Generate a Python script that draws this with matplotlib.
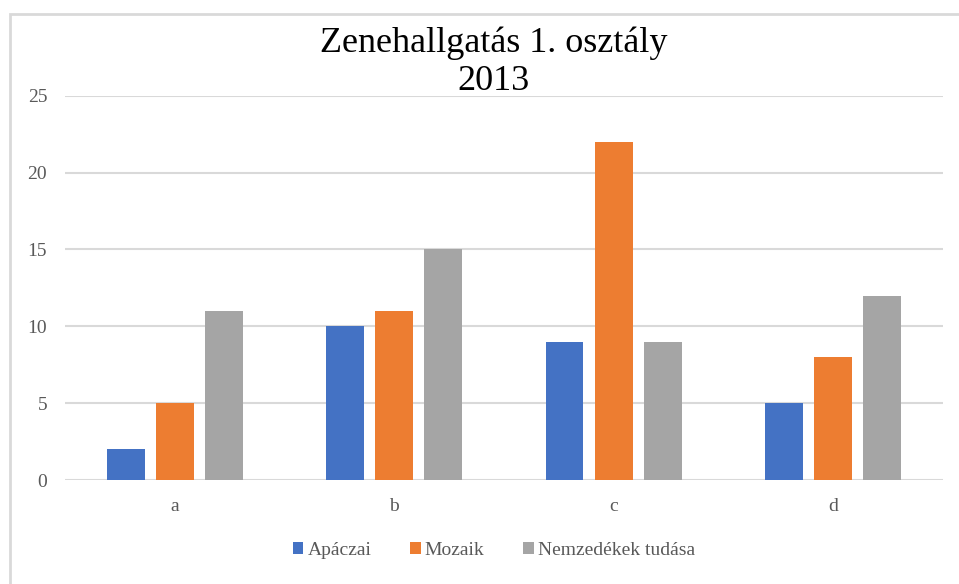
import numpy as np
import matplotlib
matplotlib.use("Agg")
import matplotlib.pyplot as plt
from matplotlib.patches import Rectangle

# Data
categories = ["a", "b", "c", "d"]
apaczai = [2, 10, 9, 5]
mozaik = [5, 11, 22, 8]
nemzedekek = [11, 15, 9, 12]
series_names = ["Apáczai", "Mozaik", "Nemzedékek tudása"]
colors = ["#4472C4", "#ED7D31", "#A5A5A5"]

plt.rcParams['font.family'] = ['Liberation Serif', 'DejaVu Serif']

fig = plt.figure(figsize=(9.59, 5.84), dpi=100)
ax = fig.add_axes([0.068, 0.178, 0.915, 0.658])

# Chart frame
fig.patches.append(Rectangle((10 / 959, -0.05), 1.0, 1 - 14 / 584 + 0.05,
                             transform=fig.transFigure, fill=False,
                             edgecolor="#D9D9D9", linewidth=2))

x = np.arange(len(categories))
width = 0.173
offset = 0.224
for i, (vals, name) in enumerate(zip([apaczai, mozaik, nemzedekek], series_names)):
    ax.bar(x + (i - 1) * offset, vals, width, color=colors[i], label=name, zorder=3)

ax.set_xlim(-0.5, 3.5)
ax.set_ylim(0, 25)
ax.set_yticks(range(0, 26, 5))
ax.set_xticks(x)
ax.set_xticklabels(categories)
ax.grid(axis="y", color="#D9D9D9", linewidth=1.5, zorder=0)
for s in ax.spines.values():
    s.set_visible(False)
ax.tick_params(length=0, labelsize=14, colors="#595959", pad=13)
ax.tick_params(axis="y", pad=13)

fig.text(0.515, 0.894, "Zenehallgatás 1. osztály\n2013", ha="center", va="center",
         fontsize=26, linespacing=1.2)

fig.legend(loc="center", bbox_to_anchor=(0.515, 0.058), ncol=3, frameon=False,
           fontsize=14, handlelength=0.55, handleheight=0.55, handletextpad=0.2,
           columnspacing=2.0, labelcolor="#595959")

fig.savefig("out.png", dpi=100)
